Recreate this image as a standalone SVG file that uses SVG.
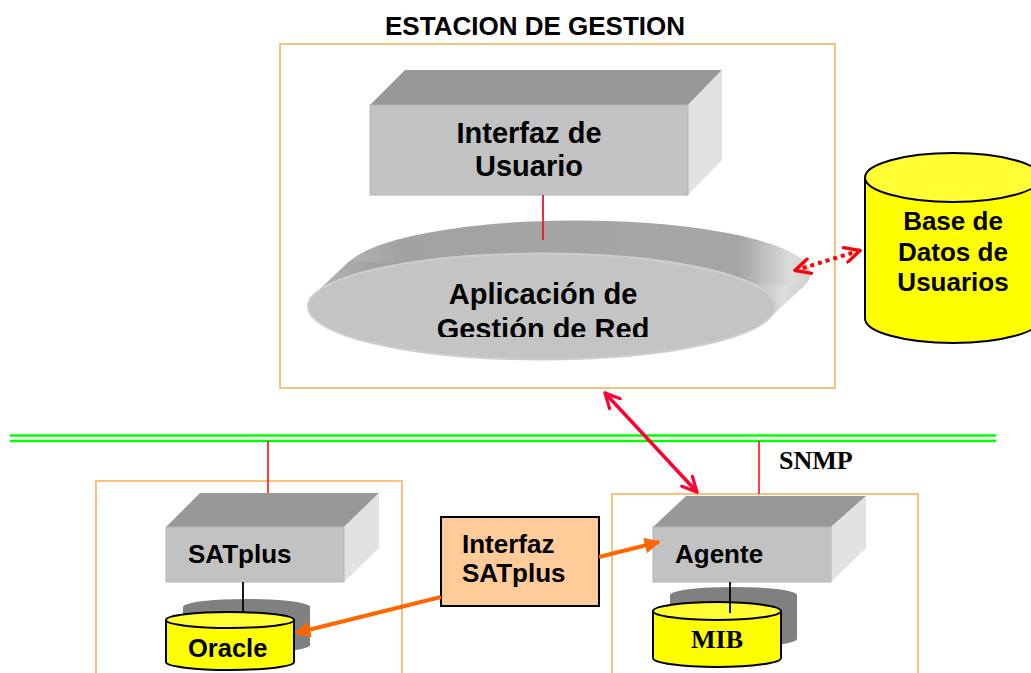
<svg xmlns="http://www.w3.org/2000/svg" width="1031" height="673" viewBox="0 0 1031 673">
<style>
.t{font-family:"Liberation Sans",Arial,sans-serif;font-weight:bold;fill:#000}
.tr{font-family:"Liberation Serif","Times New Roman",serif;font-weight:bold;fill:#000}
.frame{fill:none;stroke:#f9c27a;stroke-width:2}
.top{fill:#989898}
.front{fill:#c2c2c2;stroke:#b4b4b4;stroke-width:1}
.side{fill:#e2e2e2}
.cyl{fill:#ffff00;stroke:#000;stroke-width:2}
.cyltop{fill:#ffff33;stroke:#000;stroke-width:2}
.shadow{fill:#808080}
.net{stroke:#00ff00;stroke-width:2.5;fill:none}
.drop{stroke:#ff0000;stroke-width:1.5;fill:none}
.blk{stroke:#000;stroke-width:1.8;fill:none}
</style>
<defs>
<linearGradient id="discSide" x1="0" y1="0" x2="1" y2="0">
<stop offset="0" stop-color="#b4b4b4"/>
<stop offset="0.12" stop-color="#a2a2a2"/>
<stop offset="0.85" stop-color="#a6a6a6"/>
<stop offset="0.96" stop-color="#dddddd"/>
<stop offset="1" stop-color="#cfcfcf"/>
</linearGradient>
<clipPath id="appClip"><rect x="300" y="200" width="520" height="137"/></clipPath>
<marker id="vEnd" viewBox="0 0 12 12" refX="11" refY="6" markerWidth="5" markerHeight="5" orient="auto-start-reverse" markerUnits="strokeWidth">
<path d="M1,1 L11,6 L1,11" fill="none" stroke="#ff0033" stroke-width="2.2" stroke-linecap="round"/>
</marker>
<marker id="vDot" viewBox="0 0 12 12" refX="11" refY="6" markerWidth="4.5" markerHeight="4.5" orient="auto-start-reverse" markerUnits="strokeWidth">
<path d="M1,1 L11,6 L1,11" fill="none" stroke="#ff0000" stroke-width="2.2" stroke-linecap="round"/>
</marker>
<marker id="tri" viewBox="0 0 10 10" refX="9" refY="5" markerWidth="4" markerHeight="4" orient="auto" markerUnits="strokeWidth">
<path d="M0,0 L10,5 L0,10 Z" fill="#ff6600"/>
</marker>
</defs>
<rect width="1031" height="673" fill="#fff"/>

<g id="estacion">
<text class="t" x="535" y="35" font-size="26" text-anchor="middle">ESTACION DE GESTION</text>
<rect class="frame" x="280" y="44" width="555" height="344"/>
</g>

<g id="network">
<line class="net" x1="10" y1="435.5" x2="996" y2="435.5"/>
<line class="net" x1="10" y1="441" x2="996" y2="441"/>
</g>

<g id="interfaz-usuario">
<polygon class="top" points="370,105 405,70 722,70 688,105"/>
<polygon class="side" points="688,105 722,70 722,160 688,195"/>
<rect class="front" x="370" y="105" width="318" height="90"/>
<text class="t" x="529" y="143" font-size="29" text-anchor="middle">Interfaz de</text>
<text class="t" x="529" y="176" font-size="29" text-anchor="middle">Usuario</text>
</g>

<g id="aplicacion">
<ellipse cx="577" cy="273.5" rx="233.5" ry="53" fill="url(#discSide)"/>
<polygon points="314.5,294.1 349.5,261.1 804,285.9 768.5,318.9" fill="url(#discSide)"/>
<ellipse cx="541.5" cy="306.5" rx="233.5" ry="53" fill="#c4c4c4" stroke="#cecece" stroke-width="2"/>
<g clip-path="url(#appClip)">
<text class="t" x="543" y="304" font-size="29" text-anchor="middle">Aplicación de</text>
<text class="t" x="543" y="339" font-size="29" text-anchor="middle">Gestión de Red</text>
</g>
</g>

<g id="bd-usuarios">
<path class="cyl" d="M865,177.5 V318.5 A88,24.5 0 0 0 1041,318.5 V177.5"/>
<ellipse class="cyltop" cx="953" cy="177.5" rx="88" ry="24.5"/>
<text class="t" x="953" y="230" font-size="26" text-anchor="middle">Base de</text>
<text class="t" x="953" y="261" font-size="26" text-anchor="middle">Datos de</text>
<text class="t" x="953" y="291" font-size="26" text-anchor="middle">Usuarios</text>
</g>

<g id="satplus-host">
<rect class="frame" x="96" y="481" width="306" height="210"/>
<polygon class="top" points="166,527 200,493 379,493 344,527"/>
<polygon class="side" points="344,527 379,493 379,548 344,582"/>
<rect class="front" x="166" y="527" width="178" height="55"/>
<text class="t" x="188" y="563" font-size="26">SATplus</text>
</g>

<g id="oracle">
<path class="shadow" d="M183,607 A63.5,8 0 0 1 310,607 V645 A63.5,8 0 0 1 183,645 Z"/>
<path class="cyl" d="M166,620 V662 A64,8 0 0 0 294,662 V620"/>
<ellipse class="cyltop" cx="230" cy="620" rx="64" ry="8"/>
<text class="t" x="188" y="657" font-size="25.5">Oracle</text>
</g>

<g id="interfaz-satplus">
<rect x="441" y="517" width="158" height="89" fill="#ffcc99" stroke="#000" stroke-width="2"/>
<text class="t" x="462" y="553" font-size="26">Interfaz</text>
<text class="t" x="462" y="582" font-size="26">SATplus</text>
</g>

<g id="agente-host">
<rect class="frame" x="612" y="494" width="306" height="200"/>
<polygon class="top" points="653,527 686,496 866,496 831,527"/>
<polygon class="side" points="831,527 866,496 866,548 831,582"/>
<rect class="front" x="653" y="527" width="178" height="55"/>
<text class="t" x="675" y="563" font-size="26">Agente</text>
</g>

<g id="mib">
<path class="shadow" d="M670,595 A63.5,8 0 0 1 797,595 V639 A63.5,8 0 0 1 670,639 Z"/>
<path class="cyl" d="M653,611 V658 A64,9 0 0 0 781,658 V611"/>
<ellipse class="cyltop" cx="717" cy="611" rx="64" ry="9"/>
<text class="tr" x="717" y="648" font-size="26" text-anchor="middle">MIB</text>
</g>

<g id="snmp-label">
<text class="tr" x="779" y="469" font-size="26">SNMP</text>
</g>

<g id="connectors">
<line x1="543" y1="195" x2="543" y2="240" stroke="#ee1133" stroke-width="1.8"/>
<line class="drop" x1="268" y1="441" x2="268" y2="493"/>
<line class="drop" x1="759" y1="441" x2="759" y2="494"/>
<line class="blk" x1="243" y1="582" x2="243" y2="613"/>
<line class="blk" x1="730" y1="582" x2="730" y2="613"/>
<line x1="605" y1="393" x2="697" y2="492" stroke="#ff0033" stroke-width="3.5" marker-start="url(#vEnd)" marker-end="url(#vEnd)"/>
<line x1="795" y1="270.5" x2="860" y2="250.5" stroke="#ff0000" stroke-width="4" stroke-dasharray="4 4" marker-start="url(#vDot)" marker-end="url(#vDot)"/>
<line x1="441" y1="597" x2="296" y2="633" stroke="#ff6600" stroke-width="4" marker-end="url(#tri)"/>
<line x1="599" y1="557" x2="659" y2="542" stroke="#ff6600" stroke-width="4" marker-end="url(#tri)"/>
</g>
</svg>
